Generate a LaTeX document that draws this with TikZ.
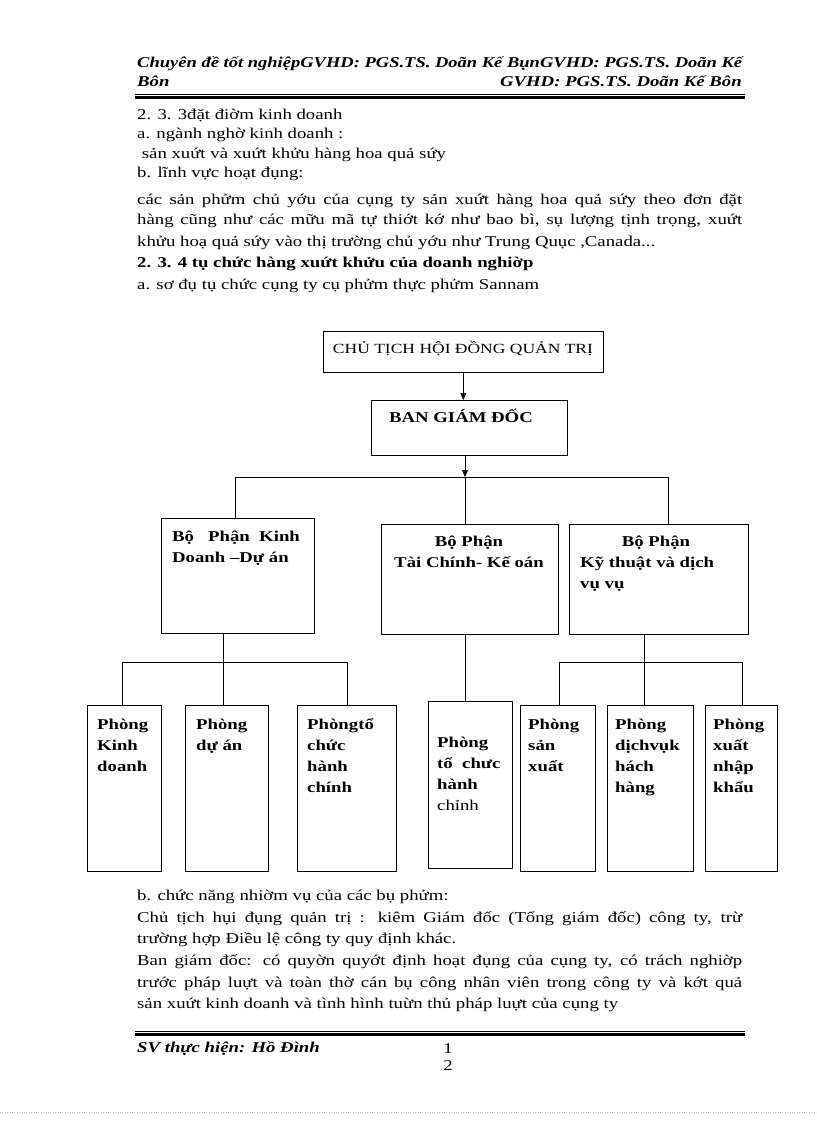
\documentclass[tikz,border=0pt]{standalone}
\usepackage{graphicx}
\usepackage{fontspec}
\setmainfont{Liberation Serif}[FakeStretch=1.25]
\usetikzlibrary{arrows.meta,positioning}
\newcommand\bodyfont{\fontsize{15}{21}\selectfont}
\newsavebox\linebox
\newcommand\fullline[1]{\sbox\linebox{#1}%
  \ifdim\wd\linebox>605pt\resizebox{605pt}{\height}{\usebox\linebox}%
  \else\makebox[605pt][s]{#1}\fi}
\tikzset{
  box/.style={draw, line width=0.7pt, inner sep=0pt, anchor=north west},
  % multi-line labels: base is the baseline of the last line
  lbl/.style={anchor=base west, inner sep=0pt, align=left, font=\bodyfont\bfseries},
  line/.style={anchor=base west, inner sep=0pt, font=\bodyfont},
  head/.style={anchor=base west, inner sep=0pt, font=\bodyfont\bfseries\itshape},
  link/.style={line width=0.7pt},
  tip/.style={-{Triangle[length=7pt,width=6pt]}},
}
\begin{document}
\begin{tikzpicture}[x=1pt, y=-1pt]
\useasboundingbox (0,0) rectangle (816,1123);
% page head
\node[head] (h1) at (137,68) {\fullline{Chuyên đề tốt nghiệpGVHD: PGS.TS. Doãn Kế BụnGVHD: PGS.TS. Doãn Kế}};
\node[head] (h2) at (137,87) {Bôn};
\node[head, anchor=base east] (h3) at (742,87) {GVHD: PGS.TS. Doãn Kế Bôn};
\draw[line width=0.5pt] (135,94) -- (745,94);
\draw[line width=2.4pt] (135,97.5) -- (745,97.5);
% text above the chart
\node[line] (t1) at (137,120) {2. 3. 3đặt điờm kinh doanh};
\node[line] (t2) at (137,139) {a. ngành nghờ kinh doanh :};
\node[line] (t3) at (137,159) {\ sản xuứt và xuứt khửu hàng hoa quả sứy};
\node[line] (t4) at (137,178) {b. lĩnh vực hoạt đụng:};
\node[line] (t5) at (137,205) {\fullline{các sản phửm chủ yớu của cụng ty sản xuứt hàng hoa quả sứy theo đơn đặt}};
\node[line] (t6) at (137,225) {\fullline{hàng cũng như các mữu mã tự thiớt kớ như bao bì, sụ lượng tịnh trọng, xuứt}};
\node[line] (t7) at (137,247) {khửu hoạ quả sứy vào thị trường chủ yớu như Trung Quục ,Canada...};
\node[line, font=\bodyfont\bfseries] (t8) at (137,267) {2. 3. 4 tụ chức hàng xuứt khửu của doanh nghiờp};
\node[line] (t9) at (137,289) {a. sơ đụ tụ chức cụng ty cụ phửm thực phửm Sannam};
% chart: top
\node[box, minimum width=280pt, minimum height=41pt] (ct) at (323,331) {};
\node[line, anchor=base, font=\fontsize{14}{18}\selectfont] (ctt) at (463,353) {CHỦ TỊCH HỘI ĐỒNG QUẢN TRỊ};
\node[box, minimum width=196pt, minimum height=55pt] (bgd) at (371,400) {};
\node[lbl, anchor=base] (bgdt) at (461,422) {BAN GIÁM ĐỐC};
\draw[link, tip] (ct.south) -- (ct.south |- bgd.north);
% chart: departments
\node[box, minimum width=153pt, minimum height=115pt] (kd) at (161,518) {};
\node[box, minimum width=177pt, minimum height=110pt] (tc) at (381,524) {};
\node[box, minimum width=179pt, minimum height=110pt] (kt) at (569,524) {};
\node[lbl] (kdt) at (172,562) {Bộ\ \ \ Phận\ \ Kinh\\Doanh –Dự án};
\node[lbl, anchor=base, align=center] (tct) at (469,567) {Bộ Phận\\Tài Chính- Kế oán};
\node[lbl, anchor=base] (ktt1) at (656,546) {Bộ Phận};
\node[lbl] (ktt2) at (580,588) {Kỹ thuật và dịch\\vụ vụ};
\coordinate (j0) at (465,477);
\coordinate (jl) at (235,477);
\coordinate (jr) at (668,477);
\draw[link, tip] (j0 |- bgd.south) -- (j0);
\draw[link] (j0) -- (j0 |- tc.north);
\draw[link] (jl |- kd.north) -- (jl) -- (jr) -- (jr |- kt.north);
% chart: rooms
\node[box, minimum width=74pt, minimum height=166pt] (p1) at (87,705) {};
\node[box, minimum width=83pt, minimum height=166pt] (p2) at (185,705) {};
\node[box, minimum width=99pt, minimum height=166pt] (p3) at (297,705) {};
\node[box, minimum width=84pt, minimum height=167pt] (p4) at (428,701) {};
\node[box, minimum width=75pt, minimum height=166pt] (p5) at (520,705) {};
\node[box, minimum width=86pt, minimum height=166pt] (p6) at (607,705) {};
\node[box, minimum width=72pt, minimum height=166pt] (p7) at (705,705) {};
\node[lbl] (p1t) at (97,771) {Phòng\\Kinh\\doanh};
\node[lbl] (p2t) at (196,750) {Phòng\\dự án};
\node[lbl] (p3t) at (307,792) {Phòngtổ\\chức\\hành\\chính};
\node[lbl] (p4t) at (437,810) {Phòng\\tổ\ \ chưc\\hành\\{\mdseries chỉnh}};
\node[lbl] (p5t) at (528,771) {Phòng\\sản\\xuất};
\node[lbl] (p6t) at (615,792) {Phòng\\dịchvụk\\hách\\hàng};
\node[lbl] (p7t) at (713,792) {Phòng\\xuất\\nhập\\khẩu};
\coordinate (ja) at (223,662);
\coordinate (ja1) at (122,662);
\coordinate (ja2) at (347,662);
\draw[link] (ja |- kd.south) -- (ja |- p2.north);
\draw[link] (ja1 |- p1.north) -- (ja1) -- (ja2) -- (ja2 |- p3.north);
\coordinate (jm) at (465,662);
\draw[link] (jm |- tc.south) -- (jm |- p4.north);
\coordinate (jb) at (644,662);
\coordinate (jb1) at (559,662);
\coordinate (jb2) at (742,662);
\draw[link] (jb |- kt.south) -- (jb |- p6.north);
\draw[link] (jb1 |- p5.north) -- (jb1) -- (jb2) -- (jb2 |- p7.north);
% text below the chart
\node[line] (u1) at (137,900) {b. chức năng nhiờm vụ của các bụ phửm:};
\node[line] (u2) at (137,922) {\fullline{Chủ tịch hụi đụng quản trị : kiêm Giám đốc (Tổng giám đốc) công ty, trừ}};
\node[line] (u3) at (137,943) {trường hợp Điều lệ công ty quy định khác.};
\node[line] (u4) at (137,965) {\fullline{Ban giám đốc: có quyờn quyớt định hoạt đụng của cụng ty, có trách nghiờp}};
\node[line] (u5) at (137,987) {\fullline{trước pháp luựt và toàn thờ cán bụ công nhân viên trong công ty và kớt quả}};
\node[line] (u6) at (137,1008) {sản xuứt kinh doanh và tình hình tuừn thủ pháp luựt của cụng ty};
% page foot
\draw[line width=0.5pt] (135,1031) -- (745,1031);
\draw[line width=2.4pt] (135,1034.5) -- (745,1034.5);
\node[head] (f1) at (137,1052) {SV thực hiện: Hồ Đình};
\node[line, anchor=base] (f2) at (448,1053) {1};
\node[line, anchor=base] (f3) at (448,1070) {2};
\draw[gray!50, dotted] (0,1112) -- (816,1112);
\end{tikzpicture}
\end{document}
